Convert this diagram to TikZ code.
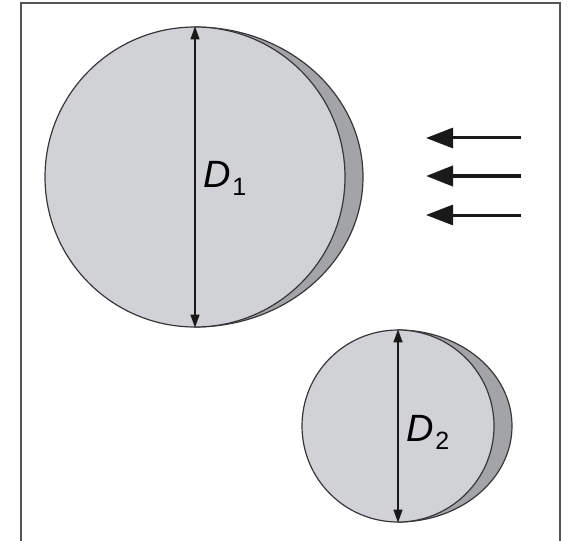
\documentclass[tikz,border=0pt]{standalone}
\usepackage{fontspec}
\setmainfont{Liberation Sans}
\usetikzlibrary{positioning, arrows.meta}
\definecolor{discgray}{RGB}{208,210,213}
\definecolor{crescgray}{RGB}{163,164,166}
\definecolor{rimgray}{RGB}{55,55,58}
\definecolor{framegray}{RGB}{85,85,88}
\tikzset{
    disc/.style={circle, draw=rimgray, fill=discgray, line width=1.2pt, inner sep=0pt, minimum size=#1},
    cresc/.style={draw=rimgray, fill=crescgray, line width=1.2pt},
    diam/.style={{Triangle[length=13pt,width=9pt]}-{Triangle[length=13pt,width=9pt]}, line width=1.4pt, color=black!90},
    flow/.style={-{Triangle[length=27pt,width=20pt]}, line width=#1, color=black!90},
    lbl/.style={font=\fontsize{38}{40}\selectfont, inner sep=0pt}
}
\newcommand{\diamlabel}[1]{\textit{D}\kern1pt\raisebox{-8pt}{\fontsize{25}{25}\selectfont #1}}

\begin{document}
\begin{tikzpicture}[x=1pt, y=-1pt]
    \useasboundingbox (0,0) rectangle (569,540);
    \draw[framegray, line width=2pt] (21,541) -- (21,3) -- (560,3) -- (560,541);
    % large disc with its crescent
    \draw[cresc] (195,27) arc[start angle=-90, end angle=90, x radius=168, y radius=150] -- cycle;
    \node[disc=300pt] at (195,177) (c1) {};
    \draw[diam] (c1.north) -- (c1.south);
    \node[lbl] at (225,178) (d1) {\diamlabel{1}};
    % small disc with its crescent
    \draw[cresc] (398,330) arc[start angle=-90, end angle=90, x radius=114, y radius=96] -- cycle;
    \node[disc=192pt] at (398,426) (c2) {};
    \draw[diam] (c2.north) -- (c2.south);
    \node[lbl] at (428,432) (d2) {\diamlabel{2}};
    % incoming flow
    \coordinate (f1) at (521,138); \coordinate (t1) at (426,138);
    \coordinate (f2) at (521,176); \coordinate (t2) at (426,176);
    \coordinate (f3) at (521,215); \coordinate (t3) at (426,215);
    \draw[flow=3pt] (f1) -- (t1);
    \draw[flow=4pt] (f2) -- (t2);
    \draw[flow=3pt] (f3) -- (t3);
\end{tikzpicture}
\end{document}
